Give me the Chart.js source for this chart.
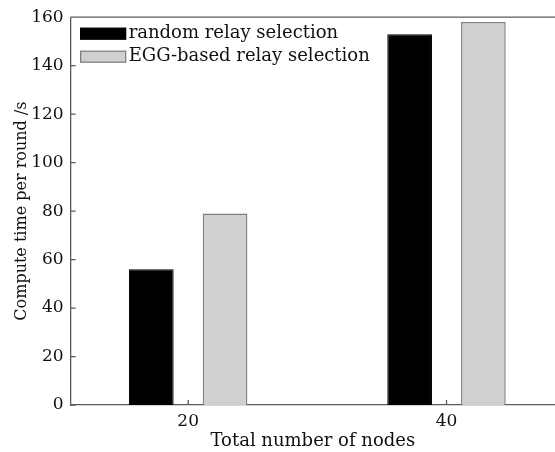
<!DOCTYPE html>
<html lang="en">

<head>
    <meta charset="UTF-8">
    <title>Compute time per round</title>
    <style>
        body { margin: 0; background: #fff; }
        .wrap { width: 555px; height: 452px; }
    </style>
    <script src="https://cdn.jsdelivr.net/npm/chart.js"></script>
</head>

<body>
    <div class="wrap">
        <canvas id="chart"></canvas>
    </div>
<script>
    // values
    const nodes = [20, 40];
    const randomRelay = [56, 153];
    const eggRelay = [79, 158];
    const seriesNames = ['random relay selection', 'EGG-based relay selection'];
    const xTicks = [20, 40];
    const yTicks = [0, 20, 40, 60, 80, 100, 120, 140, 160];

    const serif = 'DejaVu Serif';
    const axisColor = '#5a5a5a';

    // frame top line, inward tick marks and the boxed legend inside the plot
    const framePlugin = {
        id: 'framePlugin',
        afterDatasetsDraw(chart) {
            const { ctx, chartArea: a, scales: { x, y } } = chart;
            ctx.save();
            ctx.strokeStyle = axisColor;
            ctx.lineWidth = 1.3;
            ctx.beginPath();
            ctx.moveTo(a.left, a.top);
            ctx.lineTo(a.right, a.top);
            yTicks.forEach(v => {
                const py = y.getPixelForValue(v);
                ctx.moveTo(a.left, py);
                ctx.lineTo(a.left + 5, py);
            });
            xTicks.forEach(v => {
                const px = x.getPixelForValue(v);
                ctx.moveTo(px, a.bottom);
                ctx.lineTo(px, a.bottom - 5);
            });
            ctx.stroke();

            // legend
            ctx.font = '18px "' + serif + '"';
            ctx.textBaseline = 'middle';
            chart.data.datasets.forEach((ds, i) => {
                const top = a.top + 11 + i * 23;
                ctx.fillStyle = ds.backgroundColor;
                ctx.fillRect(a.left + 10, top, 45, 11);
                ctx.strokeStyle = ds.borderColor;
                ctx.lineWidth = 1.3;
                ctx.strokeRect(a.left + 10, top, 45, 11);
                ctx.fillStyle = '#111';
                ctx.fillText(ds.label, a.left + 58, top + 5);
            });
            ctx.restore();
        }
    };

    const ctx = document.getElementById('chart');

    new Chart(ctx, {
        type: 'bar',
        data: {
            datasets: [{
                label: seriesNames[0],
                data: nodes.map((n, i) => ({ x: n, y: randomRelay[i] })),
                backgroundColor: '#000000',
                borderColor: '#000000',
                borderWidth: 1,
                categoryPercentage: 0.571,
                barPercentage: 0.606
            }, {
                label: seriesNames[1],
                data: nodes.map((n, i) => ({ x: n, y: eggRelay[i] })),
                backgroundColor: '#d0d0d2',
                borderColor: '#808080',
                borderWidth: 1.5,
                categoryPercentage: 0.571,
                barPercentage: 0.606
            }]
        },
        options: {
            responsive: true,
            maintainAspectRatio: false,
            animation: false,
            layout: {
                padding: { top: 8, right: 0, left: 12, bottom: 0 }
            },
            plugins: {
                legend: { display: false },
                tooltip: { enabled: false }
            },
            scales: {
                x: {
                    type: 'linear',
                    offset: false,
                    min: 10.9,
                    max: 48.4,
                    afterBuildTicks: s => { s.ticks = xTicks.map(v => ({ value: v })); },
                    grid: { display: false, drawTicks: false },
                    border: { color: axisColor, width: 1.3 },
                    ticks: {
                        padding: 6,
                        color: '#111',
                        font: { family: serif, size: 17 }
                    },
                    title: {
                        display: true,
                        text: 'Total number of nodes',
                        color: '#111',
                        padding: { top: -7, bottom: 0 },
                        font: { family: serif, size: 18 }
                    }
                },
                y: {
                    min: 0,
                    max: 160,
                    afterBuildTicks: s => { s.ticks = yTicks.map(v => ({ value: v })); },
                    grid: { display: false, drawTicks: false },
                    border: { color: axisColor, width: 1.3 },
                    ticks: {
                        padding: 7,
                        color: '#111',
                        font: { family: serif, size: 17 }
                    },
                    title: {
                        display: true,
                        text: 'Compute time per round /s',
                        color: '#111',
                        padding: { top: 0, bottom: -7 },
                        font: { family: serif, size: 16 }
                    }
                }
            }
        },
        plugins: [framePlugin]
    });
</script>
</body>

</html>
